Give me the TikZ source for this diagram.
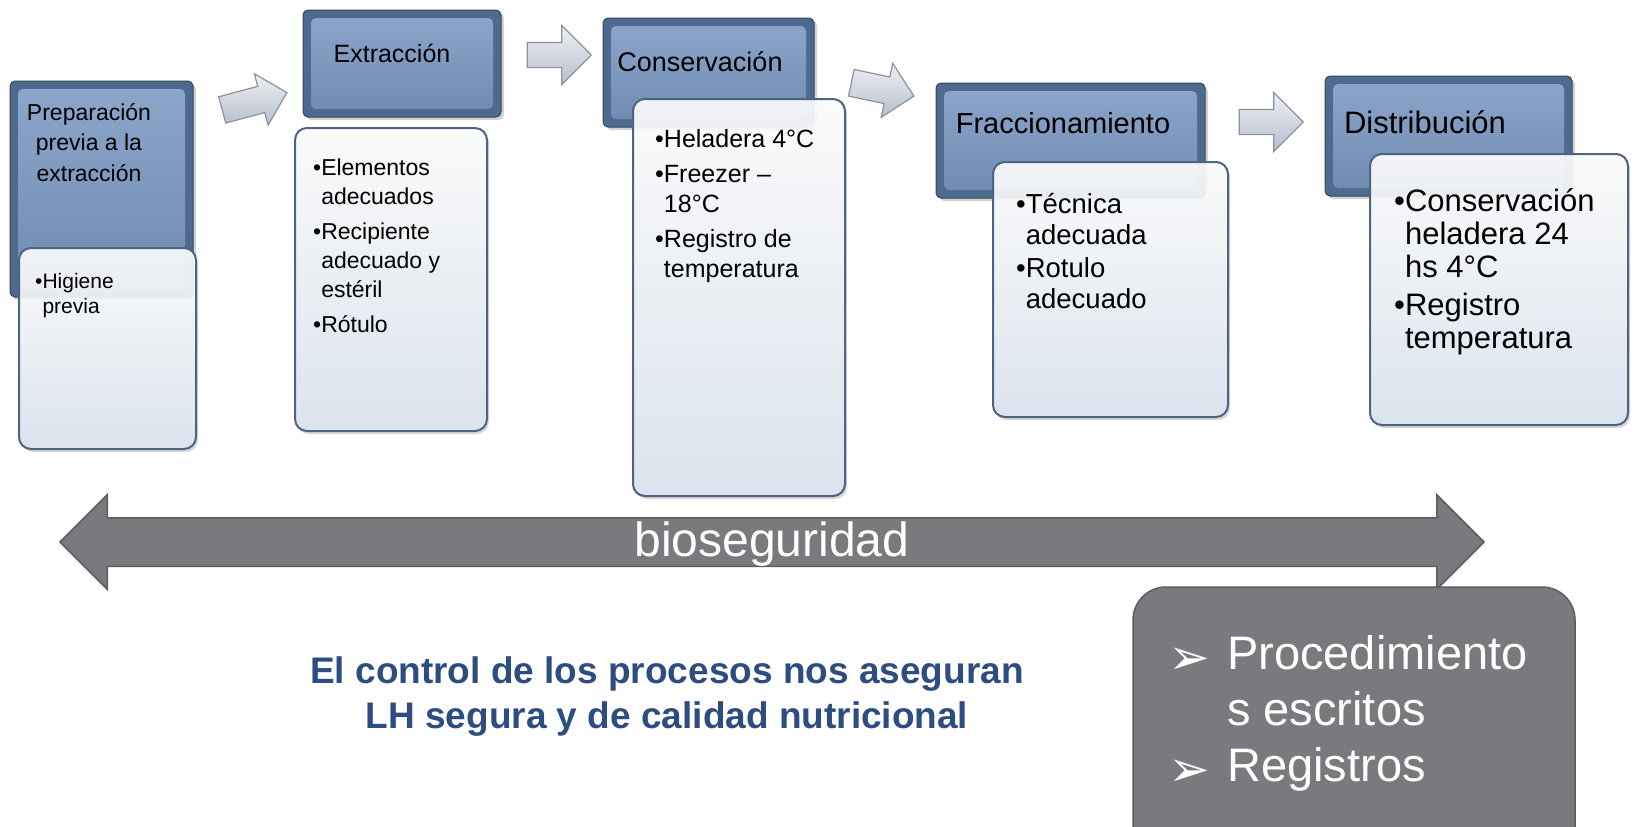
\documentclass[tikz,border=0pt]{standalone}
\usepackage{fontspec}
\setmainfont{Liberation Sans}
\newfontfamily\symfont{DejaVu Sans}
\usepackage{xcolor}
\usepackage{tikz}
\usetikzlibrary{shapes.arrows, shadows}

\definecolor{hdedge}{HTML}{4F6A8F}
\definecolor{hdtop}{HTML}{8DA7CB}
\definecolor{hdbot}{HTML}{6F8AB1}
\definecolor{hdline}{HTML}{34465F}
\definecolor{cardline}{HTML}{4E6282}
\definecolor{cardbot}{HTML}{DCE5F1}
\definecolor{arwline}{HTML}{8D939D}
\definecolor{arwtop}{HTML}{EEF0F4}
\definecolor{arwbot}{HTML}{B7BFCC}
\definecolor{bargray}{HTML}{797A7E}
\definecolor{barline}{HTML}{5C5D61}
\definecolor{ctrlblue}{HTML}{2D4C80}

\newcommand{\fs}[2]{\fontsize{#1}{#2}\selectfont}
\newcommand{\ind}{\hphantom{•}}
\newcommand{\arrb}{\smash{\raisebox{-5pt}{\symfont\fontsize{50}{50}\selectfont ➢}}}

\begin{document}
\begin{tikzpicture}[x=1pt, y=-1pt]
\tikzstyle{head}=[rectangle, rounded corners=5pt, draw=hdline, line width=1pt, fill=hdedge,
  drop shadow={opacity=.35, shadow xshift=3pt, shadow yshift=-3pt},
  path picture={\shade[top color=hdtop, bottom color=hdbot]
    ([shift={(8pt,-8pt)}]path picture bounding box.north west) rectangle
    ([shift={(-8pt,8pt)}]path picture bounding box.south east);}]
\tikzstyle{card}=[rectangle, rounded corners=12pt, draw=cardline, line width=2pt,
  top color=white, bottom color=cardbot, fill opacity=.9,
  drop shadow={opacity=.3, shadow xshift=2pt, shadow yshift=-3pt}]
\tikzstyle{arw}=[single arrow, single arrow head extend=17pt, text height=12pt, text depth=12pt,
  inner sep=0pt, minimum height=64pt, draw=arwline, line width=1.2pt, top color=arwtop, bottom color=arwbot]
\tikzstyle{htxt}=[inner sep=0pt, align=center]
\tikzstyle{btxt}=[inner sep=0pt, align=left, anchor=north west]

\fill[white] (0,0) rectangle (1636,827);
\useasboundingbox (0,0) rectangle (1636,827);

% step boxes
\node[head, minimum width=183pt, minimum height=216pt] (h1) at (101.5,189) {};
\node[card, minimum width=177pt, minimum height=201pt] (c1) at (107.5,348.5) {};
\node[head, minimum width=198pt, minimum height=107pt] (h2) at (402,63.5) {};
\node[card, minimum width=192pt, minimum height=303pt] (c2) at (391,279.5) {};
\node[head, minimum width=211pt, minimum height=109pt] (h3) at (708.5,72.5) {};
\node[card, minimum width=212pt, minimum height=397pt] (c3) at (739,297.5) {};
\node[head, minimum width=269pt, minimum height=115pt] (h4) at (1070.5,140.5) {};
\node[card, minimum width=235pt, minimum height=255pt] (c4) at (1110.5,289.5) {};
\node[head, minimum width=247pt, minimum height=120pt] (h5) at (1448.5,136) {};
\node[card, minimum width=258pt, minimum height=271pt] (c5) at (1499,289.5) {};

\node[htxt, anchor=north, font=\fs{23}{30.5}] (h1t) at (89,103) {Preparación\\previa a la\\extracción};
\node[btxt, font=\fs{21}{24.5}] (c1t) at (35,273.5) {•Higiene\\\ind previa};
\node[htxt, anchor=base, font=\fs{25}{30}] (h2t) at (392,62) {Extracción};
\node[btxt, font=\fs{23}{28.7}] (c2t) at (313,159) {•Elementos\\\ind adecuados\\[6.5pt]•Recipiente\\\ind adecuado y\\\ind estéril\\[6.5pt]•Rótulo};
\node[htxt, anchor=base, font=\fs{27}{32}] (h3t) at (700,71) {Conservación};
\node[btxt, font=\fs{25}{30}] (c3t) at (655,129.5) {•Heladera 4°C\\[5pt]•Freezer –\\\ind 18°C\\[5pt]•Registro de\\\ind temperatura};
\node[htxt, anchor=base, font=\fs{29}{34}] (h4t) at (1063,133) {Fraccionamiento};
\node[btxt, font=\fs{27.5}{31}] (c4t) at (1016,193) {•Técnica\\\ind adecuada\\[2pt]•Rotulo\\\ind adecuado};
\node[htxt, anchor=base, font=\fs{31}{36}] (h5t) at (1425,133) {Distribución};
\node[btxt, font=\fs{31}{33}] (c5t) at (1394,188) {•Conservación\\\ind heladera 24\\\ind hs 4°C\\[5.5pt]•Registro\\\ind temperatura};

% arrows between the steps
\node[arw, rotate=15, minimum height=67pt, text height=13pt, text depth=13pt, single arrow head extend=13pt] (a1) at (248,103) {};
\node[arw] (a2) at (553,55) {};
\node[arw, rotate=-12, text height=13pt, text depth=13pt, single arrow head extend=14pt] (a3) at (876,88) {};
\node[arw] (a4) at (1265,122) {};

% bioseguridad
\node[double arrow, double arrow head extend=23pt, text height=23.5pt, text depth=23.5pt, inner sep=0pt,
  minimum height=1424pt, fill=bargray, draw=barline, line width=1.5pt] (bar) at (772,542) {};
\node[text=white, font=\fs{48}{48}] (bio) at (772,544) {bioseguridad};

\node[rectangle, rounded corners=33pt, fill=bargray, draw=barline, line width=1.5pt,
  minimum width=442pt, minimum height=273pt] (proc) at (1354,723.5) {};
\node[btxt, text=white, font=\fs{47}{56}] (proct) at (1168,635)
  {\makebox[59pt][l]{\arrb}Procedimiento\\\hspace*{59pt}s escritos\\\makebox[59pt][l]{\arrb}Registros};

\node[htxt, anchor=north, text=ctrlblue, font=\bfseries\fs{37}{45}] (ctrl) at (667,656)
  {El control de los procesos nos aseguran\\LH segura y de calidad nutricional};

\end{tikzpicture}
\end{document}
